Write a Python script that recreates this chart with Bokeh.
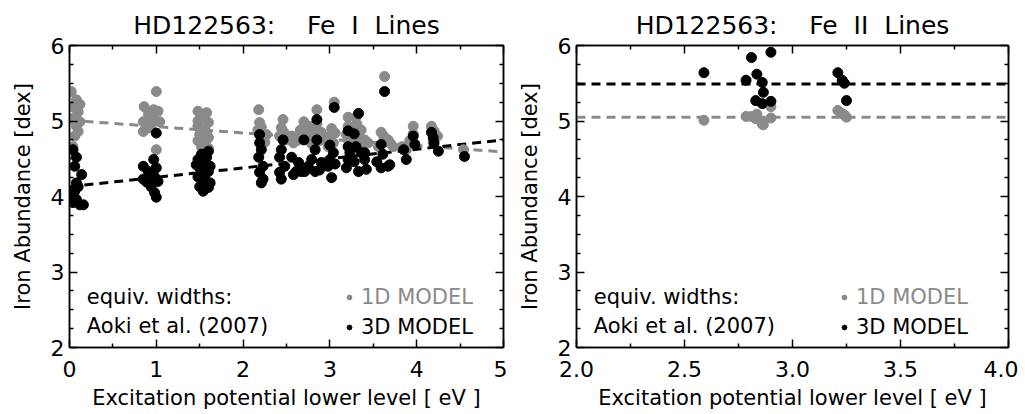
from bokeh.plotting import figure
from bokeh.layouts import row
from bokeh.models import (Range1d, LinearAxis, FixedTicker, NumeralTickFormatter,
                          Label, Legend, LegendItem)
from bokeh.embed import file_html
from bokeh.resources import INLINE

# ---------------- data ----------------
fe1_1d_chi = [0.02, 0.08, 0.12, 0.04, 0.10, 0.04, 0.06, 0.12, 0.08, 0.10, 0.06, 0.04,
              1.00, 0.86, 0.97, 1.02, 0.91, 0.97, 1.04, 0.85, 0.94, 0.92, 0.85, 1.00,
              1.48, 1.58, 1.52, 1.60, 1.48, 1.56, 1.50, 1.60, 1.48, 1.56, 1.52, 1.60, 1.50, 1.58, 1.54, 1.48,
              2.18, 2.19, 2.21, 2.19, 2.27, 2.23, 2.17, 2.25,
              2.46, 2.44, 2.42, 2.50, 2.47,
              2.56, 2.63, 2.58, 2.66, 2.70, 2.62,
              2.85, 2.77, 2.85, 2.90, 2.81, 2.75, 2.88, 2.83, 2.79,
              3.05, 3.00, 2.96, 3.04, 2.98, 3.06, 3.02,
              3.21, 3.30, 3.21, 3.33, 3.40, 3.21, 3.44, 3.25, 3.28, 3.36, 3.23, 3.38, 3.31, 3.19,
              3.63, 3.59, 3.67, 3.56, 3.73, 3.62, 3.70,
              3.96, 3.96, 3.88, 3.83, 3.92,
              4.17, 4.20, 4.24, 4.19,
              4.54]
fe1_1d_abund = [5.39, 5.28, 5.22, 5.19, 5.12, 5.02, 5.05, 4.99, 4.93, 4.86, 4.80, 4.66,
                5.39, 5.19, 5.15, 5.13, 5.09, 5.02, 4.99, 4.99, 4.95, 4.91, 4.86, 4.62,
                5.13, 5.11, 5.05, 4.98, 4.93, 4.88, 4.82, 4.78, 4.74, 4.70, 4.66, 4.64, 4.90, 4.85, 4.72, 5.00,
                5.15, 4.98, 4.92, 4.84, 4.82, 4.78, 4.88, 4.72,
                5.02, 4.91, 4.80, 4.75, 4.85,
                4.80, 4.80, 4.71, 4.88, 4.99, 4.74,
                5.15, 4.93, 4.96, 4.85, 4.77, 4.82, 4.74, 4.87, 4.70,
                5.25, 4.80, 4.75, 4.71, 4.66, 4.84, 4.90,
                5.05, 5.05, 4.93, 4.80, 4.75, 4.75, 4.71, 4.85, 4.70, 4.88, 4.66, 4.68, 4.96, 4.82,
                5.59, 4.85, 4.75, 4.66, 4.66, 4.80, 4.70,
                4.93, 4.83, 4.62, 4.66, 4.74,
                4.93, 4.87, 4.80, 4.72,
                4.62]

fe1_3d_chi = [0.04, 0.08, 0.06, 0.14, 0.08, 0.06, 0.08, 0.12, 0.04, 0.16, 0.10, 0.04,
              1.00, 0.97, 0.85, 1.00, 0.91, 0.98, 0.85, 1.02, 0.94, 0.98, 1.00, 0.89,
              1.52, 1.60, 1.48, 1.56, 1.50, 1.60, 1.48, 1.56, 1.50, 1.60, 1.54, 1.52, 1.58, 1.62, 1.62, 1.46,
              2.19, 2.19, 2.21, 2.18, 2.23, 2.19, 2.23, 2.21,
              2.46, 2.44, 2.42, 2.48, 2.42, 2.44,
              2.56, 2.61, 2.58, 2.67, 2.70, 2.64,
              2.85, 2.85, 2.83, 2.79, 2.90, 2.83, 2.75, 2.71, 2.88,
              3.05, 3.04, 3.00, 3.06, 2.98, 3.02, 3.00,
              3.33, 3.21, 3.28, 3.21, 3.30, 3.23, 3.36, 3.21, 3.28, 3.40, 3.19, 3.33, 3.42, 3.40,
              3.63, 3.59, 3.61, 3.54, 3.69, 3.59, 3.67,
              3.96, 3.98, 3.88, 3.85,
              4.17, 4.19, 4.25, 4.20,
              4.55]
fe1_3d_abund = [4.62, 4.52, 4.40, 4.29, 4.18, 4.07, 3.96, 3.89, 3.92, 3.89, 4.13, 4.03,
                4.84, 4.49, 4.40, 4.38, 4.33, 4.26, 4.23, 4.20, 4.13, 4.05, 3.99, 4.19,
                4.56, 4.60, 4.49, 4.45, 4.38, 4.33, 4.26, 4.23, 4.13, 4.12, 4.07, 4.30, 4.52, 4.40, 4.18, 4.42,
                4.82, 4.71, 4.62, 4.52, 4.40, 4.32, 4.23, 4.18,
                4.75, 4.62, 4.52, 4.40, 4.32, 4.23,
                4.52, 4.33, 4.29, 4.33, 4.75, 4.45,
                5.02, 4.75, 4.62, 4.49, 4.45, 4.33, 4.40, 4.33, 4.35,
                5.18, 4.58, 4.49, 4.43, 4.40, 4.25, 4.68,
                5.10, 4.87, 4.83, 4.66, 4.66, 4.58, 4.58, 4.49, 4.46, 4.49, 4.38, 4.33, 4.36, 4.58,
                5.39, 4.69, 4.56, 4.46, 4.42, 4.38, 4.40,
                4.80, 4.69, 4.49, 4.62,
                4.85, 4.78, 4.60, 4.71,
                4.53]

fe2_chi = [2.59, 2.81, 2.90, 2.835, 2.785, 2.86, 2.865, 2.83, 2.86, 2.90, 3.21, 3.23, 3.24, 3.25]
fe2_1d_abund = [5.01, 5.06, 5.19, 5.09, 5.06, 4.98, 4.95, 5.03, 4.96, 5.04, 5.14, 5.10, 5.08, 5.05]
fe2_3d_abund = [5.64, 5.84, 5.91, 5.62, 5.54, 5.51, 5.38, 5.27, 5.23, 5.26, 5.64, 5.54, 5.50, 5.27]

# trend lines (end points)
fe1_fit_chi = [0.0, 5.0]
fe1_fit_1d = [5.01, 4.59]
fe1_fit_3d = [4.13, 4.75]
fe2_fit_chi = [2.0, 4.0]
fe2_fit_1d = [5.05, 5.05]
fe2_fit_3d = [5.49, 5.49]

NB = "\u00a0"
titles = ["HD122563:" + NB * 4 + "Fe" + NB * 2 + "I" + NB * 2 + "Lines",
          "HD122563:" + NB * 4 + "Fe" + NB * 2 + "II" + NB * 2 + "Lines"]
x_label = "Excitation potential lower level [ eV ]"
y_label = "Iron Abundance [dex]"
legend_note = ["equiv. widths:", "Aoki et al. (2007)"]
model_names = ["1D MODEL", "3D MODEL"]

GRAY = "#8a8a8a"
FONT = "DejaVu Sans"


def style_axis(ax, ticks, minor, show_labels, fmt=None):
    ax.ticker = FixedTicker(ticks=ticks, minor_ticks=minor)
    ax.major_tick_in = 8
    ax.major_tick_out = 0
    ax.minor_tick_in = 4
    ax.minor_tick_out = 0
    ax.major_tick_line_width = 1.5
    ax.minor_tick_line_width = 1.5
    ax.axis_line_width = 1.5
    ax.major_tick_line_color = "black"
    ax.minor_tick_line_color = "black"
    ax.axis_line_color = "black"
    if fmt is not None:
        ax.formatter = fmt
    if show_labels:
        ax.major_label_text_font = FONT
        ax.major_label_text_font_size = "22px"
        ax.major_label_text_color = "black"
        ax.axis_label_text_font = FONT
        ax.axis_label_text_font_size = "21px"
        ax.axis_label_text_font_style = "normal"
        ax.axis_label_text_color = "black"
    else:
        ax.major_label_text_font_size = "0px"
        ax.major_label_text_color = None
        ax.major_label_standoff = 0


def panel(title, xr, xticks, xminor, fmt, frame_w, border_r,
          chi1, ab1, chi3, ab3, fitx, fit1, fit3, note_x, leg_x):
    p = figure(x_range=Range1d(*xr), y_range=Range1d(2, 6),
               frame_width=frame_w, frame_height=302,
               min_border_left=69, min_border_right=border_r,
               min_border_top=45, min_border_bottom=56,
               output_backend="svg", toolbar_location=None)
    p.title.text = title
    p.title.align = "center"
    p.title.text_font = FONT
    p.title.text_font_size = "25px"
    p.title.text_font_style = "normal"
    p.title.text_color = "black"
    p.title.standoff = 12
    p.grid.visible = False
    p.outline_line_color = "black"
    p.outline_line_width = 1.5
    p.background_fill_color = "white"
    p.border_fill_color = "white"

    yticks = [2, 3, 4, 5, 6]
    yminor = [2 + 0.25 * i for i in range(17) if i % 4 != 0]

    style_axis(p.xaxis[0], xticks, xminor, True, fmt)
    p.xaxis[0].axis_label = x_label
    p.xaxis[0].major_label_standoff = 13
    p.xaxis[0].axis_label_standoff = 6
    style_axis(p.yaxis[0], yticks, yminor, True)
    p.yaxis[0].axis_label = y_label
    p.yaxis[0].major_label_standoff = 5
    p.yaxis[0].axis_label_standoff = 13

    top = LinearAxis()
    style_axis(top, xticks, xminor, False)
    p.add_layout(top, "above")
    right = LinearAxis()
    style_axis(right, yticks, yminor, False)
    p.add_layout(right, "right")

    p.line(fitx, fit1, line_color=GRAY, line_width=3, line_dash="9 6")
    p.line(fitx, fit3, line_color="black", line_width=3, line_dash="9 6")

    r1 = p.scatter(chi1, ab1, size=10, fill_color=GRAY, line_color=GRAY)
    r3 = p.scatter(chi3, ab3, size=10, fill_color="black", line_color="black")

    for txt, yy in zip(legend_note, [2.675, 2.28]):
        p.add_layout(Label(x=note_x, y=yy, text=txt, text_font=FONT,
                           text_font_size="21px", text_baseline="middle",
                           text_color="black"))

    for r, name, col, ly in [(r1, model_names[0], GRAY, 38), (r3, model_names[1], "black", 8)]:
        leg = Legend(items=[LegendItem(label=name, renderers=[r])],
                     location=(leg_x, ly), padding=0, spacing=0, margin=0,
                     glyph_width=12, glyph_height=16, label_standoff=6,
                     label_text_font=FONT, label_text_font_size="21px",
                     label_text_color=col, border_line_color=None,
                     background_fill_alpha=0)
        p.add_layout(leg)
    return p


p1 = panel(titles[0], (0, 5), [0, 1, 2, 3, 4, 5], [0.5, 1.5, 2.5, 3.5, 4.5], None,
           434, 4, fe1_1d_chi, fe1_1d_abund, fe1_3d_chi, fe1_3d_abund,
           fe1_fit_chi, fe1_fit_1d, fe1_fit_3d, 0.2, 274)
p2 = panel(titles[1], (2, 4), [2.0, 2.5, 3.0, 3.5, 4.0], [2.25, 2.75, 3.25, 3.75],
           NumeralTickFormatter(format="0.0"),
           432, 10, fe2_chi, fe2_1d_abund, fe2_chi, fe2_3d_abund,
           fe2_fit_chi, fe2_fit_1d, fe2_fit_3d, 2.08, 262)

layout = row(p1, p2, spacing=0)
open("out.html", "w").write(file_html(layout, INLINE))
